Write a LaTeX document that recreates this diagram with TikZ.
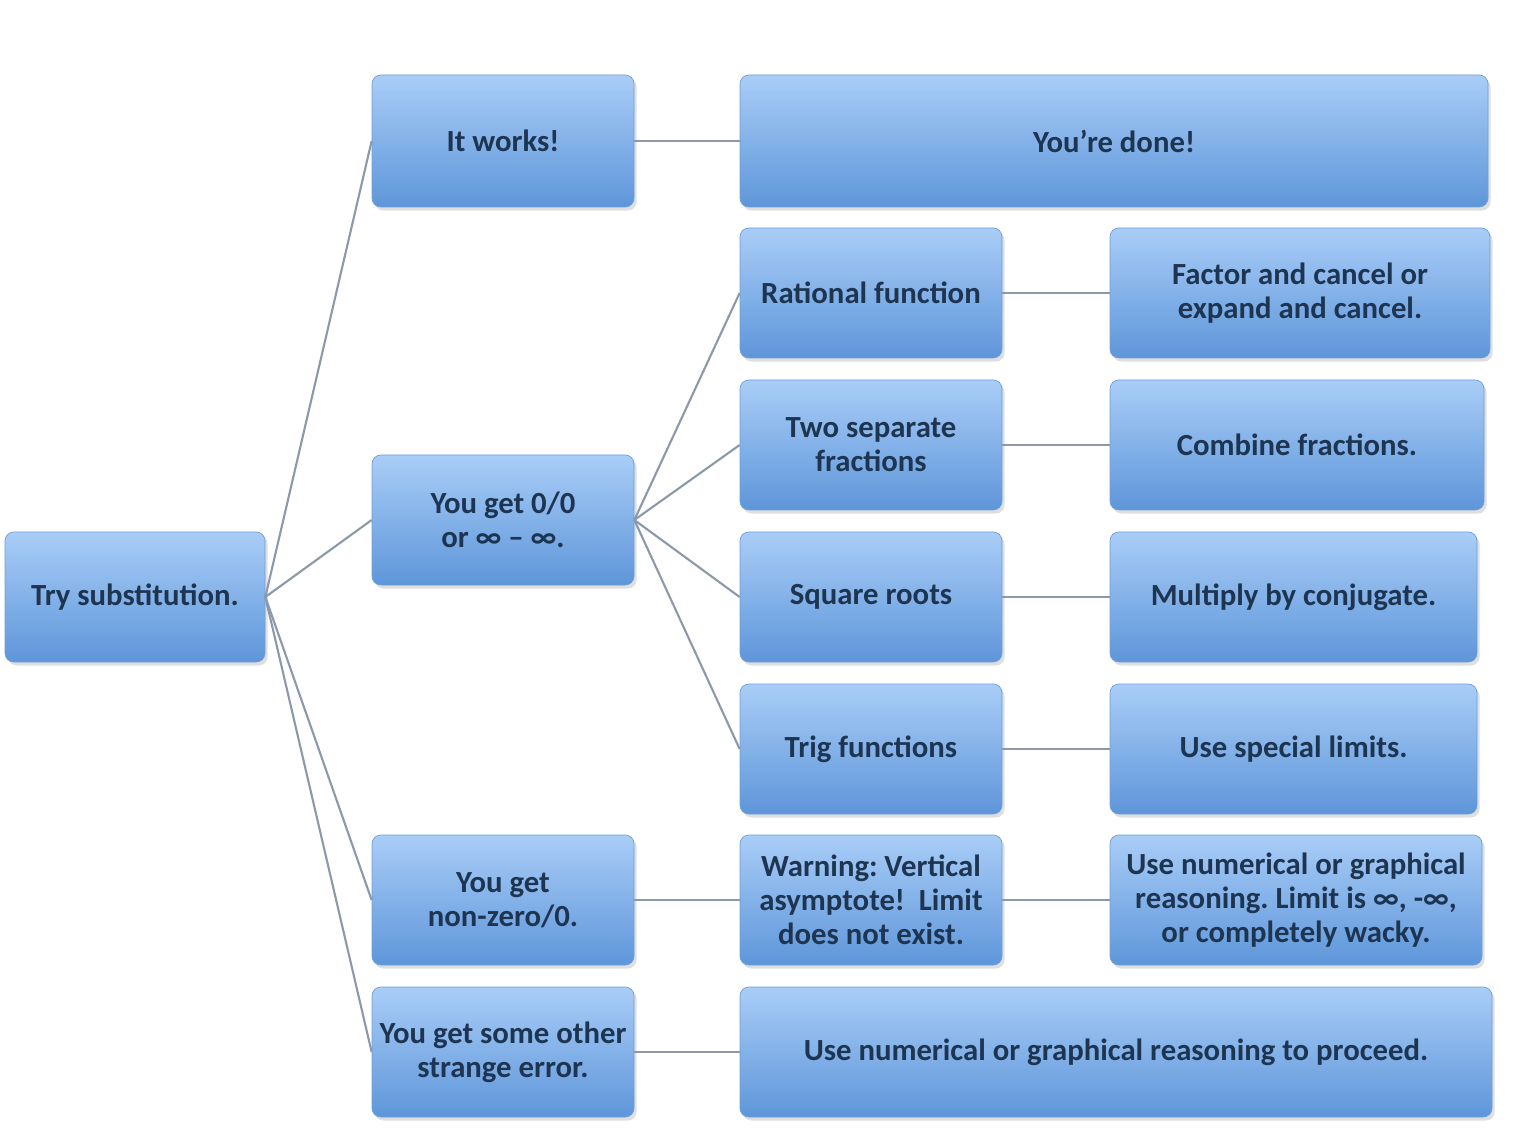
\documentclass[tikz,border=0pt]{standalone}
\usepackage{fontspec}
\setmainfont{Carlito}
\usetikzlibrary{shadows}
\definecolor{boxtop}{HTML}{A9CDF7}
\definecolor{boxbot}{HTML}{5E96DA}
\definecolor{boxedge}{HTML}{6E9FD8}
\definecolor{txt}{HTML}{1E3552}
\definecolor{conn}{HTML}{8C99AA}
\tikzset{
  box/.style={rounded corners=5pt, top color=boxtop, bottom color=boxbot, draw=boxedge, line width=0.4pt,
    drop shadow={opacity=0.25, shadow xshift=1.5pt, shadow yshift=-2pt},
    text=txt, align=center, inner sep=1pt,
    font=\fontsize{17.5}{19.5}\selectfont\bfseries},
  bw/.style={minimum width=#1*0.02cm},
  bh/.style={minimum height=#1*0.02cm},
  link/.style={draw=conn, line width=1.2pt}
}
\frenchspacing
\begin{document}
\begin{tikzpicture}[x=0.02cm,y=-0.02cm]
\useasboundingbox[fill=white] (0,0) rectangle (1529,1145);
\node[box,bw=260,bh=130] (try) at (135,597) {Try substitution.};
\node[box,bw=262,bh=132] (works) at (503,141) {It works!};
\node[box,bw=262,bh=130] (zero) at (503,520) {You get 0/0\\or ∞ – ∞.};
\node[box,bw=262,bh=130] (nonzero) at (503,900) {You get\\non-zero/0.};
\node[box,bw=262,bh=130] (other) at (503,1052) {You get some other\\strange error.};
\node[box,bw=748,bh=132] (done) at (1114,141) {You’re done!};
\node[box,bw=262,bh=130] (rational) at (871,293) {Rational function};
\node[box,bw=262,bh=130] (two) at (871,445) {Two separate\\fractions};
\node[box,bw=262,bh=130] (sqrt) at (871,597) {Square roots};
\node[box,bw=262,bh=130] (trig) at (871,749) {Trig functions};
\node[box,bw=262,bh=130] (warn) at (871,900) {Warning: Vertical\\asymptote!\ \ Limit\\does not exist.};
\node[box,bw=380,bh=130] (factor) at (1300,293) {Factor and cancel or\\expand and cancel.};
\node[box,bw=374,bh=130] (combine) at (1297,445) {Combine fractions.};
\node[box,bw=367,bh=130] (conj) at (1293.5,597) {Multiply by conjugate.};
\node[box,bw=367,bh=130] (special) at (1293.5,749) {Use special limits.};
\node[box,bw=372,bh=130] (usenum) at (1296,900) {Use numerical or graphical\\reasoning. Limit is ∞, -∞,\\or completely wacky.};
\node[box,bw=752,bh=130] (proceed) at (1116,1052) {Use numerical or graphical reasoning to proceed.};
\draw[link] (try.east) -- (works.west);
\draw[link] (try.east) -- (zero.west);
\draw[link] (try.east) -- (nonzero.west);
\draw[link] (try.east) -- (other.west);
\draw[link] (zero.east) -- (rational.west);
\draw[link] (zero.east) -- (two.west);
\draw[link] (zero.east) -- (sqrt.west);
\draw[link] (zero.east) -- (trig.west);
\draw[link] (works) -- (done);
\draw[link] (rational) -- (factor);
\draw[link] (two) -- (combine);
\draw[link] (sqrt) -- (conj);
\draw[link] (trig) -- (special);
\draw[link] (nonzero) -- (warn);
\draw[link] (warn) -- (usenum);
\draw[link] (other) -- (proceed);
\end{tikzpicture}
\end{document}
